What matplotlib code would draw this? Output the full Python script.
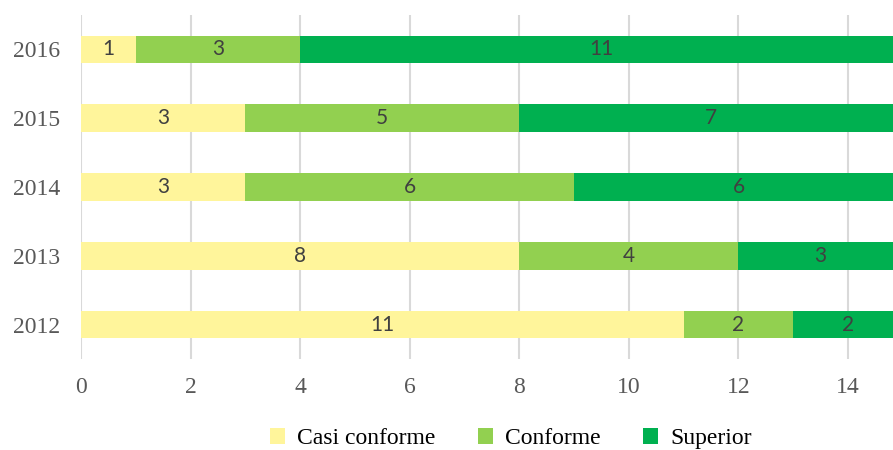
import matplotlib.pyplot as plt

years = ["2012", "2013", "2014", "2015", "2016"]
casi_conforme = [11, 8, 3, 3, 1]
conforme = [2, 4, 6, 5, 3]
superior = [2, 3, 6, 7, 11]

series = [
    ("Casi conforme", casi_conforme, "#FFF59B"),
    ("Conforme", conforme, "#92D050"),
    ("Superior", superior, "#00B050"),
]

fig = plt.figure(figsize=(8.93, 4.5), dpi=100)
ax = fig.add_axes([0.0907, 0.2022, 0.9093, 0.7644])

left = [0] * len(years)
for name, vals, color in series:
    bars = ax.barh(years, vals, left=left, height=0.4, color=color, label=name, zorder=2)
    for b, v in zip(bars, vals):
        x = b.get_x() + b.get_width() / 2
        ax.text(x, b.get_y() + b.get_height() / 2, str(v), ha="center", va="center",
                fontsize=15, color="#404040", family="Lato", zorder=3)
    left = [l + v for l, v in zip(left, vals)]

ax.set_xlim(0, 14.82)
ax.set_ylim(-0.5, 4.5)
ax.set_xticks(range(0, 15, 2))
ax.grid(axis="x", color="#d9d9d9", linewidth=1.5, zorder=0)
for s in ax.spines.values():
    s.set_visible(False)
ax.tick_params(length=0, labelsize=17, labelcolor="#595959")
ax.tick_params(axis="x", pad=13)
ax.tick_params(axis="y", pad=15)
for lab in ax.get_xticklabels() + ax.get_yticklabels():
    lab.set_family("Liberation Serif")

fig.legend(loc="lower center", bbox_to_anchor=(0.572, -0.045), ncol=3, frameon=False,
           prop={"family": "Liberation Serif", "size": 17}, handlelength=0.65, handleheight=0.65,
           handletextpad=0.5, columnspacing=1.8)

fig.savefig("out.png")
